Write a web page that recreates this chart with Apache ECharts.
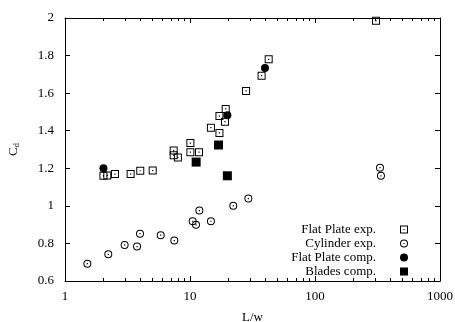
<!DOCTYPE html>
<html>
<head>
<meta charset="utf-8">
<script src="https://cdn.jsdelivr.net/npm/echarts@6/dist/echarts.min.js"></script>
<style>
  html, body { margin: 0; padding: 0; background: #fff; }
  #chart { width: 455px; height: 322px; }
</style>
</head>
<body>
<div id="chart"></div>
<script>
// Drag coefficient against aspect ratio L/w
const flatPlateExp = [
  [2.03, 1.160], [2.18, 1.162], [2.51, 1.169], [3.35, 1.169], [4.0, 1.187],
  [5.03, 1.188], [7.4, 1.295], [7.4, 1.270], [8.0, 1.258], [10.07, 1.334],
  [10.07, 1.286], [11.8, 1.286], [14.7, 1.416], [17.2, 1.388], [17.2, 1.478],
  [19.3, 1.516], [19.05, 1.448], [28.1, 1.612], [37.4, 1.693], [42.6, 1.780],
  [307.6, 1.985]
];
const cylinderExp = [
  [1.51, 0.692], [2.22, 0.742], [3.0, 0.792], [3.77, 0.783], [3.98, 0.852],
  [5.83, 0.844], [7.49, 0.815], [10.5, 0.918], [11.17, 0.899], [11.88, 0.975],
  [14.7, 0.918], [22.2, 1.0], [29.3, 1.039], [331, 1.203], [337, 1.160]
];
const flatPlateComp = [[2.03, 1.20], [19.9, 1.482], [39.8, 1.734]];
const bladesComp = [[11.2, 1.233], [16.9, 1.324], [19.9, 1.160]];

const seriesNames = ['Flat Plate exp.', 'Cylinder exp.', 'Flat Plate comp.', 'Blades comp.'];
const minorTickValues = [2, 3, 4, 5, 6, 7, 8, 9, 20, 30, 40, 50, 60, 70, 80, 90, 200, 300, 400, 500, 600, 700, 800, 900];
const yTicks = { min: 0.6, max: 2, step: 0.2 };

// marker shapes: open square / open circle with a centre dot, solid square
const SQUARE_DOT = 'path://M0,0H8V8H0Z M1,1V7H7V1Z M3.4,3.4H4.6V4.6H3.4Z';
const CIRCLE_DOT = 'path://M4,0A4,4,0,1,1,4,8A4,4,0,1,1,4,0Z M4,1A3,3,0,1,0,4,7A3,3,0,1,0,4,1Z M3.4,3.4H4.6V4.6H3.4Z';
const SQUARE_FILL = 'path://M0,0H8V8H0Z';

const FONT = 'Liberation Serif';
const black = '#000';
const markStyle = { color: black, opacity: 1 };

function xAxisDef(pos, showLabel) {
  return {
    type: 'log', logBase: 10, min: 1, max: 1000, position: pos,
    axisLine: { show: true, lineStyle: { color: black, width: 1 } },
    axisTick: { show: true, inside: true, length: 5, lineStyle: { color: black } },
    axisLabel: {
      show: showLabel, color: black, fontFamily: FONT, fontSize: 13, margin: 9,
      formatter: v => String(Math.round(v))
    },
    splitLine: { show: false },
    minorTick: { show: false },
    name: showLabel ? 'L/w' : '',
    nameLocation: 'middle', nameGap: 30,
    nameTextStyle: { color: black, fontFamily: FONT, fontSize: 13 }
  };
}

function yAxisDef(pos, showLabel) {
  return {
    type: 'value', min: yTicks.min, max: yTicks.max, interval: yTicks.step, position: pos,
    axisLine: { show: true, lineStyle: { color: black, width: 1 } },
    axisTick: { show: true, inside: true, length: 5, lineStyle: { color: black } },
    axisLabel: {
      show: showLabel, color: black, fontFamily: FONT, fontSize: 13, margin: 11,
      formatter: v => String(+v.toFixed(1))
    },
    splitLine: { show: false },
    name: showLabel ? 'C{sub|d}' : '',
    nameLocation: 'middle', nameGap: 44, nameRotate: 90,
    nameTextStyle: {
      color: black, fontFamily: FONT, fontSize: 13,
      rich: { sub: { fontFamily: FONT, fontSize: 9, verticalAlign: 'bottom', padding: [6, 0, 0, 0] } }
    }
  };
}

// short log-decade ticks on the bottom and top frame edges
function renderMinorTick(params, api) {
  const x = api.value(0);
  const bottom = api.coord([x, yTicks.min]);
  const top = api.coord([x, yTicks.max]);
  const len = 3;
  const style = { stroke: black, lineWidth: 1, fill: null };
  const bx = Math.round(bottom[0]) + 0.5;
  const tx = Math.round(top[0]) + 0.5;
  return {
    type: 'group',
    children: [
      { type: 'line', shape: { x1: bx, y1: bottom[1], x2: bx, y2: bottom[1] - len }, style },
      { type: 'line', shape: { x1: tx, y1: top[1], x2: tx, y2: top[1] + len }, style }
    ]
  };
}

const chart = echarts.init(document.getElementById('chart'), null, { renderer: 'canvas' });
chart.setOption({
  animation: false,
  backgroundColor: '#fff',
  textStyle: { fontFamily: FONT },
  grid: { left: 65, right: 15, top: 18, bottom: 41, containLabel: false, outerBoundsMode: 'none' },
  xAxis: [xAxisDef('bottom', true), xAxisDef('top', false)],
  yAxis: [yAxisDef('left', true), yAxisDef('right', false)],
  legend: {
    data: seriesNames,
    orient: 'vertical',
    align: 'right',
    right: 47, top: 223, padding: 0,
    itemWidth: 46, itemHeight: 8, itemGap: 1,
    selectedMode: false,
    textStyle: { color: black, fontFamily: FONT, fontSize: 13, lineHeight: 13 }
  },
  series: [
    {
      name: seriesNames[0], type: 'scatter', data: flatPlateExp, symbolKeepAspect: true,
      symbol: SQUARE_DOT, symbolSize: 8, itemStyle: markStyle
    },
    {
      name: seriesNames[1], type: 'scatter', data: cylinderExp, symbolKeepAspect: true,
      symbol: CIRCLE_DOT, symbolSize: 8, itemStyle: markStyle
    },
    {
      name: seriesNames[2], type: 'scatter', data: flatPlateComp, symbolKeepAspect: true,
      symbol: 'circle', symbolSize: 8, itemStyle: markStyle
    },
    {
      name: seriesNames[3], type: 'scatter', data: bladesComp, symbolKeepAspect: true,
      symbol: SQUARE_FILL, symbolSize: 9, itemStyle: markStyle
    },
    {
      type: 'custom', name: 'minor ticks',
      xAxisIndex: 0, yAxisIndex: 0,
      data: minorTickValues.map(v => [v, yTicks.min]),
      encode: { x: 0, y: 1 },
      renderItem: renderMinorTick, silent: true, clip: false, z: 10
    }
  ]
});
</script>
</body>
</html>
